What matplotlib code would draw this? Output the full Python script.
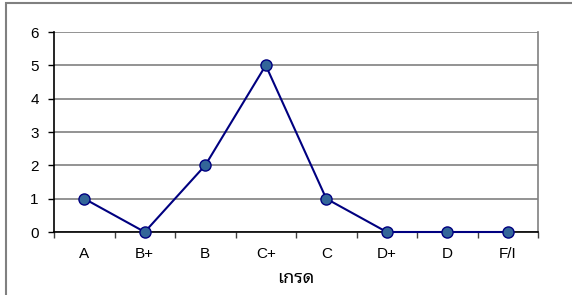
import matplotlib
matplotlib.use('Agg')
import matplotlib.pyplot as plt
from matplotlib.patches import Rectangle
import numpy as np

grades = ['A', 'B+', 'B', 'C+', 'C', 'D+', 'D', 'F/I']
counts = [1, 0, 2, 5, 1, 0, 0, 0]

plt.rcParams['font.family'] = ['Liberation Sans', 'DejaVu Sans']

fig = plt.figure(figsize=(5.72, 2.95), dpi=100)
ax = fig.add_axes([54 / 572, 63 / 295, 484 / 572, 200 / 295])

# outer chart border (only left and top are visible in the picture)
fig.patches.append(Rectangle((5.5 / 572, -0.2), 1.2, 1.2 - 2.5 / 295,
                             transform=fig.transFigure, fill=False,
                             edgecolor='#808080', linewidth=1.5))

x = np.arange(len(grades))
ax.plot(x, counts, color='#000080', linewidth=1.5, marker='o',
        markersize=8, markerfacecolor='#336699', markeredgecolor='#000080',
        markeredgewidth=1.0, zorder=3, clip_on=False)

ax.set_xlim(-0.5, len(grades) - 0.5)
ax.set_ylim(0, 6)
ax.set_yticks(range(0, 7))
ax.yaxis.grid(True, color='#808080', linewidth=1.2)
ax.set_axisbelow(True)

ax.set_xticks(x)
ax.set_xticklabels(grades)
ax.set_xticks(np.arange(-0.5, len(grades)), minor=True)
ax.tick_params(axis='x', which='major', length=0, pad=10.5, labelsize=11)
ax.tick_params(axis='x', which='minor', length=4, width=1, color='#404040')
ax.tick_params(axis='y', length=4, width=1, pad=7, labelsize=11)

ax.spines['left'].set_color('black')
ax.spines['bottom'].set_color('black')
ax.spines['right'].set_color('#808080')
ax.spines['top'].set_visible(False)
for s in ax.spines.values():
    s.set_linewidth(1.2)

ax.set_xlabel('เกรด', family=['Noto Sans Thai Looped', 'DejaVu Sans'],
              fontsize=13, labelpad=6)

fig.savefig('out.png')
